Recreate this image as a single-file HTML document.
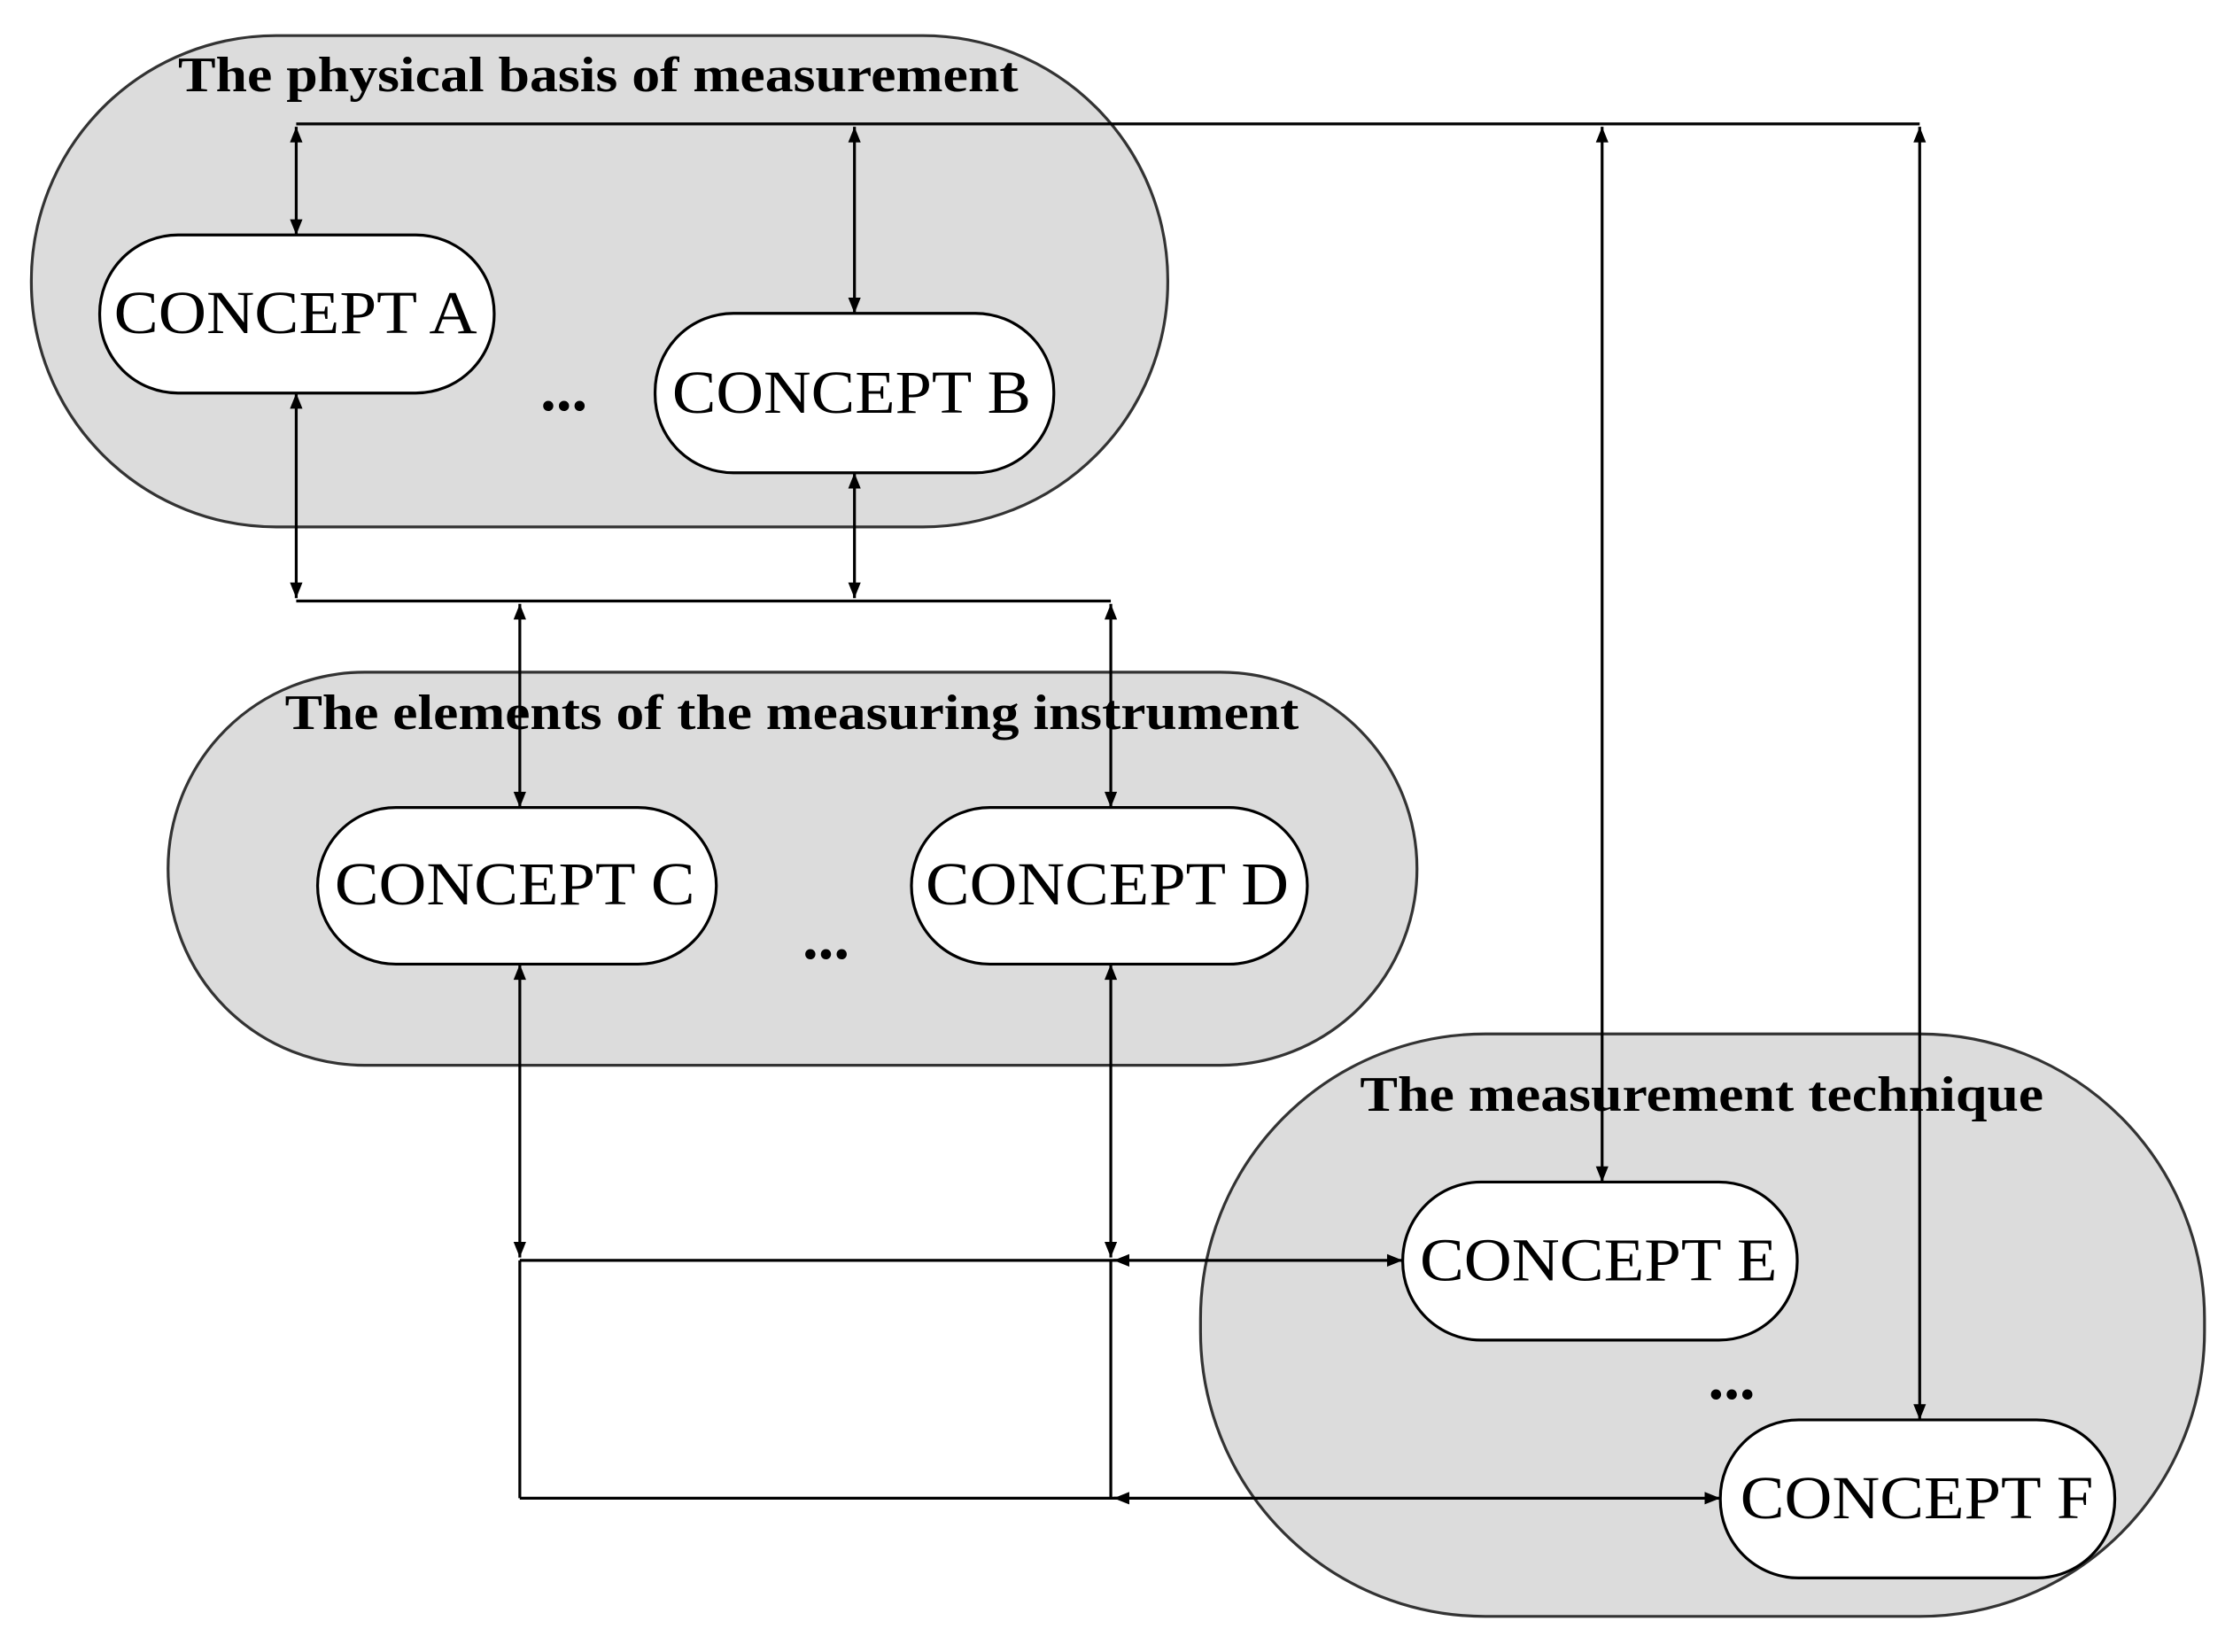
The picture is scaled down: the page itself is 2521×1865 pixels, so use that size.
<!DOCTYPE html>
<html><head><meta charset="utf-8"><style>html,body{margin:0;padding:0;background:#fff}svg{display:block}</style></head>
<body>
<svg width="2521" height="1865" viewBox="0 0 1568 1160" xmlns="http://www.w3.org/2000/svg">
<defs>
<marker id="a" viewBox="0 0 10 10" refX="10" refY="5" markerWidth="13" markerHeight="11" markerUnits="userSpaceOnUse" orient="auto-start-reverse"><path d="M0,1 L10,5 L0,9 z" fill="#000"/></marker>
</defs>
<g stroke="#333" stroke-width="2" fill="#dcdcdc">
<rect x="22" y="25" width="798" height="345" rx="172"/>
<rect x="118" y="472" width="877" height="276" rx="138"/>
<rect x="843" y="726" width="705" height="409" rx="200"/>
</g>
<g stroke="#000" stroke-width="2" fill="#fff">
<rect x="70" y="165" width="277" height="111" rx="55"/>
<rect x="460" y="220" width="280" height="112" rx="55"/>
<rect x="223" y="567" width="280" height="110" rx="55"/>
<rect x="640" y="567" width="278" height="110" rx="55"/>
<rect x="985" y="830" width="277" height="111" rx="55"/>
<rect x="1208" y="997" width="277" height="111" rx="55"/>
</g>
<g font-family="Liberation Serif, serif" font-size="43" fill="#000" lengthAdjust="spacingAndGlyphs">
<text x="80" y="234" textLength="255" lengthAdjust="spacingAndGlyphs">CONCEPT A</text>
<text x="472" y="290" textLength="252" lengthAdjust="spacingAndGlyphs">CONCEPT B</text>
<text x="235" y="635" textLength="253" lengthAdjust="spacingAndGlyphs">CONCEPT C</text>
<text x="650" y="635" textLength="255" lengthAdjust="spacingAndGlyphs">CONCEPT D</text>
<text x="997" y="899" textLength="251" lengthAdjust="spacingAndGlyphs">CONCEPT E</text>
<text x="1222" y="1066" textLength="248" lengthAdjust="spacingAndGlyphs">CONCEPT F</text>
</g>
<g font-family="Liberation Serif, serif" font-size="35" font-weight="bold" fill="#000">
<text x="125" y="64" textLength="590" lengthAdjust="spacingAndGlyphs">The physical basis of measurement</text>
<text x="200" y="512" textLength="712" lengthAdjust="spacingAndGlyphs">The elements of the measuring instrument</text>
<text x="955" y="780" textLength="480" lengthAdjust="spacingAndGlyphs">The measurement technique</text>
</g>
<g font-family="Liberation Serif, serif" font-size="44" font-weight="bold" text-anchor="middle" fill="#000">
<text x="396" y="288">...</text>
<text x="580" y="673">...</text>
<text x="1216" y="982">...</text>
</g>
<g stroke="#000" stroke-width="2" fill="none">
<line x1="208" y1="87" x2="1348" y2="87"/>
<line x1="208" y1="89" x2="208" y2="165" marker-start="url(#a)" marker-end="url(#a)"/>
<line x1="600" y1="89" x2="600" y2="220" marker-start="url(#a)" marker-end="url(#a)"/>
<line x1="1125" y1="89" x2="1125" y2="830" marker-start="url(#a)" marker-end="url(#a)"/>
<line x1="1348" y1="89" x2="1348" y2="997" marker-start="url(#a)" marker-end="url(#a)"/>
<line x1="208" y1="276" x2="208" y2="420" marker-start="url(#a)" marker-end="url(#a)"/>
<line x1="600" y1="332" x2="600" y2="420" marker-start="url(#a)" marker-end="url(#a)"/>
<line x1="208" y1="422" x2="780" y2="422"/>
<line x1="365" y1="424" x2="365" y2="567" marker-start="url(#a)" marker-end="url(#a)"/>
<line x1="780" y1="424" x2="780" y2="567" marker-start="url(#a)" marker-end="url(#a)"/>
<line x1="365" y1="677" x2="365" y2="883" marker-start="url(#a)" marker-end="url(#a)"/>
<line x1="780" y1="677" x2="780" y2="883" marker-start="url(#a)" marker-end="url(#a)"/>
<line x1="365" y1="885" x2="785" y2="885"/>
<line x1="782" y1="885" x2="985" y2="885" marker-start="url(#a)" marker-end="url(#a)"/>
<line x1="365" y1="885" x2="365" y2="1052"/>
<line x1="780" y1="885" x2="780" y2="1052"/>
<line x1="365" y1="1052" x2="785" y2="1052"/>
<line x1="782" y1="1052" x2="1208" y2="1052" marker-start="url(#a)" marker-end="url(#a)"/>
</g>
</svg>
</body></html>
